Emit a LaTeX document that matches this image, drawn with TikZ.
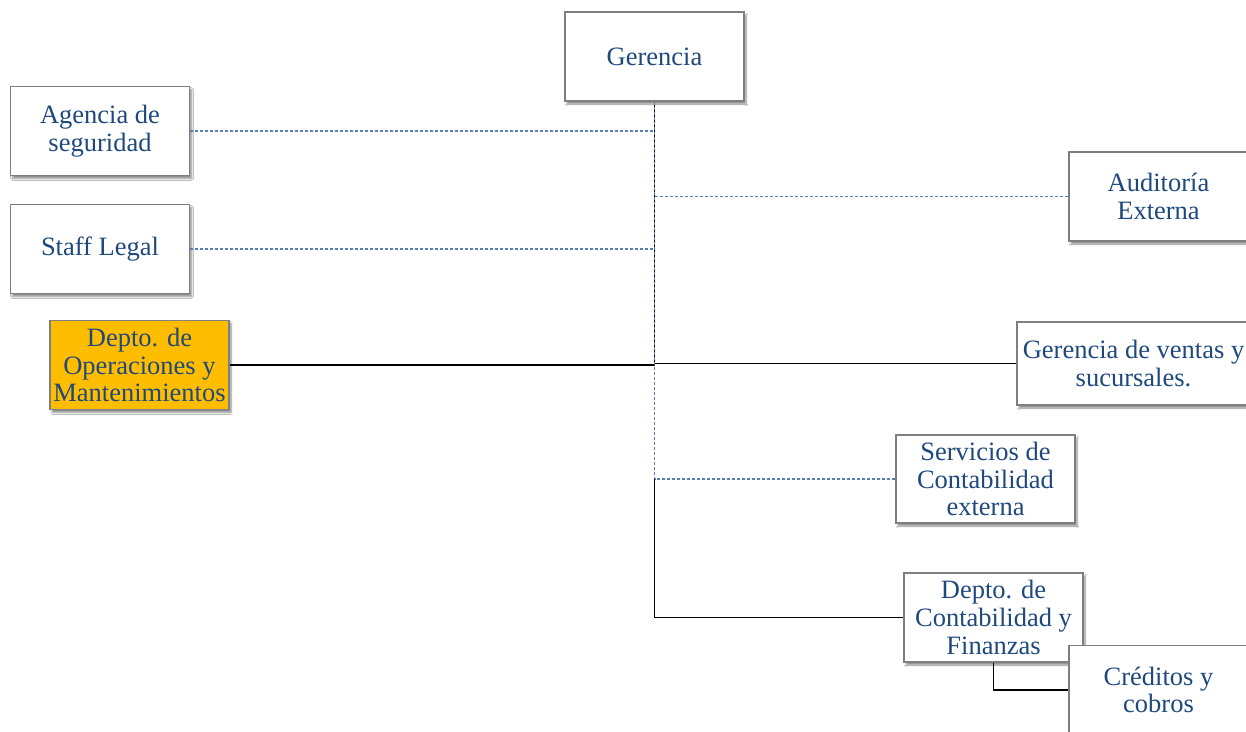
\documentclass[tikz,border=0pt]{standalone}
\usepackage{fontspec}
\setmainfont{Liberation Serif}
\usetikzlibrary{shadows.blur}
\definecolor{txtblue}{HTML}{1F497D}
\definecolor{dotblue}{HTML}{5B7DB1}
\definecolor{boxgray}{HTML}{7F7F7F}
\definecolor{gold}{HTML}{FFBD00}
\begin{document}
\begin{tikzpicture}[x=1pt,y=-1pt,
  unit/.style={draw=boxgray, line width=1.2pt, fill=white, rectangle,
    minimum width=179pt, minimum height=89pt, inner sep=0pt, align=center,
    text=txtblue, font=\fontsize{26.5}{27.8}\selectfont,
    blur shadow={shadow xshift=2pt, shadow yshift=-3pt, shadow blur steps=6, shadow opacity=45}},
  staffline/.style={draw=dotblue, line width=1.3pt, dash pattern=on 3pt off 2pt},
  lineline/.style={draw=black, line width=1.1pt}]
\useasboundingbox (0,0) rectangle (1246,731);
\clip (0,0) rectangle (1246,731);
\fill[white] (0,0) rectangle (1246,731);

% units
\node[unit] (ger) at (654.5,56.5) {Gerencia};
\node[unit] (agen) at (100,131) {Agencia de\\seguridad};
\node[unit] (staff) at (100,249) {Staff Legal};
\node[unit, fill=gold] (oper) at (139.5,365) {Depto. de\\Operaciones y\\Mantenimientos};
\node[unit] (aud) at (1158.5,196.5) {Auditoría\\Externa};
\node[unit, minimum width=233pt, minimum height=83pt] (ventas) at (1133.5,363.5) {Gerencia de ventas y\\sucursales.};
\node[unit, minimum height=88pt] (serv) at (985.5,479) {Servicios de\\Contabilidad\\externa};
\node[unit] (dcf) at (993.5,617.5) {Depto. de\\Contabilidad y\\Finanzas};
\node[unit] (cred) at (1158.5,690) {Créditos y\\cobros};

% staff (advisory) links
\draw[staffline] (agen.east) -- (agen.east -| ger.south);
\draw[staffline] (staff.east) -- (staff.east -| ger.south);
\draw[staffline] (aud.west) -- (aud.west -| ger.south);
\draw[staffline] (serv.west) -- (serv.west -| ger.south);

% line (authority) links
\draw[lineline] (ger.south) -- (oper.east -| ger.south);
\draw[lineline] (oper.east) -- (oper.east -| ger.south);
\draw[lineline] (ventas.west) -- (ventas.west -| ger.south);
\draw[staffline] (ger.south) -- (serv.west -| ger.south);
\draw[lineline] (serv.west -| ger.south) -- (dcf.west -| ger.south) -- (dcf.west);
\draw[lineline] (dcf.south) -- (dcf.south |- cred.west) -- (cred.west);

% redraw boxes touched by the lower links on top
\node[unit] at (cred) {Créditos y\\cobros};
\end{tikzpicture}
\end{document}
